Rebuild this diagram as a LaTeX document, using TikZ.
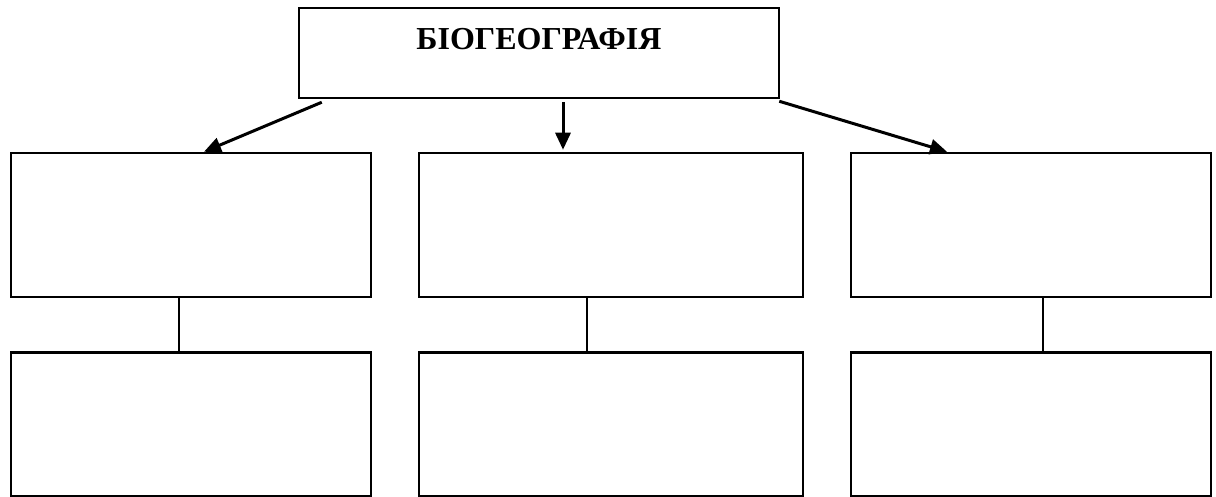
\documentclass[tikz,border=0pt]{standalone}
\usepackage{fontspec}
\setmainfont{Liberation Serif}
\usetikzlibrary{positioning}
\usetikzlibrary{arrows.meta}
\usetikzlibrary{calc}

\begin{document}
\begin{tikzpicture}[x=1pt, y=-1pt,
	box/.style={draw, line width=2.5pt, minimum width=#1, minimum height=144pt, inner sep=0pt},
	link/.style={line width=3pt, -{Triangle[length=17pt,width=15pt]}}]
\useasboundingbox (0,0) rectangle (1216,497);

\node[draw, line width=2.5pt, minimum width=480pt, minimum height=90pt, text height=22pt, text depth=28pt,
	font=\bfseries\fontsize{32}{36}\selectfont] (geo) at (539,53) {БІОГЕОГРАФІЯ};

\node[box=360pt] (sub1) at (191,225) {};
\node[box=384pt] (sub2) at (611,225) {};
\node[box=360pt] (sub3) at (1031,225) {};

\node[box=360pt] (low1) at (191,424.5) {};
\node[box=384pt] (low2) at (611,424.5) {};
\node[box=360pt] (low3) at (1031,424.5) {};

\coordinate (from1) at ($(geo.south west)+(24,3)$);
\coordinate (from2) at ($(geo.south)+(24,3)$);
\coordinate (from3) at ($(geo.south east)+(-1,2)$);
\coordinate (to1) at ($(sub1.north)+(13,0)$);
\coordinate (to2) at ($(sub2.north)+(-48,-2)$);
\coordinate (to3) at ($(sub3.north)+(-84,0)$);

\draw[link] (from1) -- (to1);
\draw[link] (from2) -- (to2);
\draw[link] (from3) -- (to3);

\draw[line width=2.5pt] ($(sub1.south)+(-12,0)$) -- ($(low1.north)+(-12,0)$);
\draw[line width=2.5pt] ($(sub2.south)+(-24,0)$) -- ($(low2.north)+(-24,0)$);
\draw[line width=2.5pt] ($(sub3.south)+(12,0)$) -- ($(low3.north)+(12,0)$);
\end{tikzpicture}
\end{document}
